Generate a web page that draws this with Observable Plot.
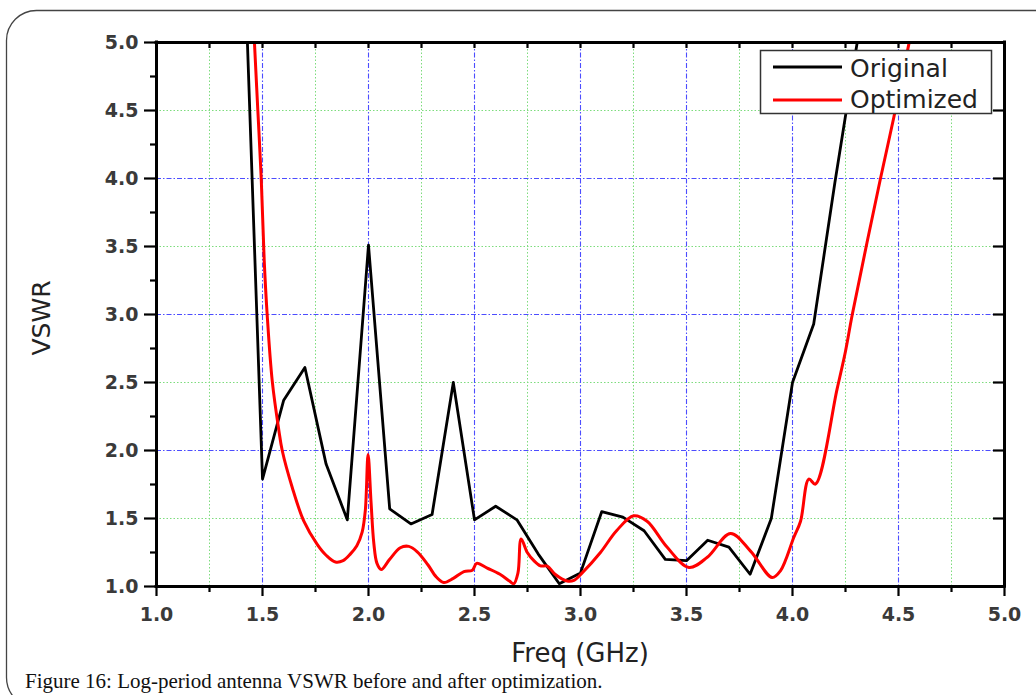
<!DOCTYPE html>
<html>
<head>
<meta charset="utf-8">
<script src="https://cdn.jsdelivr.net/npm/d3@7"></script>
<script src="https://cdn.jsdelivr.net/npm/@observablehq/plot@0.6"></script>
<style>
  html, body { margin: 0; padding: 0; background: #fff; }
  #wrap { position: relative; width: 1036px; height: 695px; overflow: hidden; background: #fff; }
  #wrap > svg.plot-main { position: absolute; left: 0; top: 0; }
  #overlay { position: absolute; left: 0; top: 0; pointer-events: none; }
</style>
</head>
<body>
<div id="wrap"></div>
<script>
// ---- data ----
const origFreq = [1.4, 1.5, 1.6, 1.7, 1.8, 1.9, 2.0, 2.1, 2.2, 2.3, 2.4, 2.5, 2.6, 2.7, 2.8, 2.9, 3.0, 3.1, 3.2, 3.3, 3.4, 3.5, 3.6, 3.7, 3.8, 3.9, 4.0, 4.1, 4.2, 4.3, 4.4];
const origVswr = [6.3, 1.79, 2.37, 2.61, 1.9, 1.49, 3.51, 1.57, 1.46, 1.53, 2.5, 1.49, 1.59, 1.49, 1.24, 1.02, 1.1, 1.55, 1.51, 1.41, 1.2, 1.19, 1.34, 1.29, 1.09, 1.5, 2.5, 2.93, 3.97, 4.95, 5.9];

const optFreq = [1.45, 1.462, 1.478, 1.494, 1.508, 1.522, 1.546, 1.577, 1.593, 1.64, 1.695, 1.758, 1.80, 1.844, 1.88, 1.915, 1.945, 1.97, 1.985, 1.998, 2.012, 2.025, 2.04, 2.06, 2.1, 2.15, 2.19, 2.23, 2.28, 2.32, 2.355, 2.4, 2.45, 2.49, 2.51, 2.56, 2.62, 2.665, 2.685, 2.705, 2.72, 2.749, 2.78, 2.811, 2.843, 2.88, 2.937, 2.969, 3.008, 3.094, 3.17, 3.251, 3.314, 3.408, 3.511, 3.598, 3.708, 3.802, 3.904, 3.943, 4.006, 4.038, 4.077, 4.108, 4.21, 4.25, 4.282, 4.415, 4.478, 4.549, 4.57];
const optVswr = [5.4, 5.0, 4.5, 4.0, 3.4, 3.0, 2.51, 2.15, 2.0, 1.73, 1.48, 1.31, 1.23, 1.18, 1.19, 1.24, 1.3, 1.4, 1.56, 1.97, 1.62, 1.32, 1.17, 1.125, 1.2, 1.285, 1.295, 1.255, 1.16, 1.07, 1.03, 1.06, 1.11, 1.12, 1.17, 1.135, 1.09, 1.04, 1.02, 1.1, 1.35, 1.25, 1.19, 1.152, 1.15, 1.09, 1.04, 1.045, 1.10, 1.25, 1.41, 1.52, 1.48, 1.29, 1.14, 1.215, 1.39, 1.26, 1.066, 1.115, 1.36, 1.48, 1.79, 1.753, 2.45, 2.73, 3.0, 4.0, 4.45, 4.99, 5.15];

const seriesNames = ["Original", "Optimized"];
const seriesColors = ["#000000", "#ff0000"];

const xMajor = [1.0, 1.5, 2.0, 2.5, 3.0, 3.5, 4.0, 4.5, 5.0];
const xMinor = [1.25, 1.75, 2.25, 2.75, 3.25, 3.75, 4.25, 4.75];
const xTopTicks = [1.25, 1.5, 1.75, 2.0, 2.25, 2.5, 2.75, 3.0, 3.25, 3.5, 3.75, 4.0, 4.25, 4.5, 4.75];
const yMajor = [1.0, 1.5, 2.0, 2.5, 3.0, 3.5, 4.0, 4.5, 5.0];
const yMinor = [1.25, 1.75, 2.25, 2.75, 3.25, 3.75, 4.25, 4.75];
const yRightTicks = [1.5, 2.0, 2.5, 3.0, 3.5, 4.0, 4.5];
const xGridBlue = [1.5, 2.0, 2.5, 3.0, 3.5, 4.0, 4.5];
const xGridGreen = xMinor;
const yGridBlue = [2.0, 3.0, 4.0];
const yGridGreen = [1.5, 2.5, 3.5, 4.5];

const xTitle = "Freq (GHz)";
const yTitle = "VSWR";
const caption = "Figure 16: Log-period antenna VSWR before and after optimization.";

// ---- tables ----
const original = origFreq.map((f, i) => ({f, v: origVswr[i]}));
const optimized = optFreq.map((f, i) => ({f, v: optVswr[i]}));

const fmt = d3.format(".1f");
const FONT = "DejaVu Sans, Verdana, sans-serif";
const blue = "#4d4dff", green = "#7ddc7d";

const chart = Plot.plot({
  width: 1036,
  height: 660,
  marginLeft: 156,
  marginRight: 32,
  marginTop: 42,
  marginBottom: 74,
  x: {domain: [1, 5]},
  y: {domain: [1, 5]},
  style: {fontFamily: FONT, background: "transparent", color: "black", overflow: "visible"},
  marks: [
    Plot.ruleX(xGridGreen, {stroke: green, strokeWidth: 1, strokeDasharray: "1.5,2"}),
    Plot.ruleY(yGridGreen, {stroke: green, strokeWidth: 1, strokeDasharray: "1.5,2"}),
    Plot.ruleX(xGridBlue, {stroke: blue, strokeWidth: 1.1, strokeDasharray: "5,2,1.5,2"}),
    Plot.ruleY(yGridBlue, {stroke: blue, strokeWidth: 1.1, strokeDasharray: "5,2,1.5,2"}),
    Plot.line(original, {x: "f", y: "v", stroke: seriesColors[0], strokeWidth: 2.8, clip: true}),
    Plot.line(optimized, {x: "f", y: "v", stroke: seriesColors[1], strokeWidth: 3, curve: "catmull-rom", clip: true}),
    Plot.ruleX([1, 5], {stroke: "black", strokeWidth: 3, strokeLinecap: "square"}),
    Plot.ruleY([1, 5], {stroke: "black", strokeWidth: 3, strokeLinecap: "square"}),
    Plot.tickX(xTopTicks, {x: d => d, insetBottom: 538, stroke: "black", strokeWidth: 2.2}),
    Plot.tickY(yRightTicks, {y: d => d, insetLeft: 837, stroke: "black", strokeWidth: 2.2}),
    Plot.axisX(xMajor, {anchor: "bottom", tickSize: 10, tickPadding: 11, tickFormat: fmt,
      fontSize: 19, fontWeight: "bold", fontFamily: FONT, fill: "#3a3a3a", stroke: "black", strokeWidth: 2.2, label: null}),
    Plot.axisX(xMinor, {anchor: "bottom", tickSize: 6, fill: "none", stroke: "black", strokeWidth: 2.2, label: null}),
    Plot.axisY(yMajor, {anchor: "left", tickSize: 12, tickPadding: 6, tickFormat: fmt,
      fontSize: 19, fontWeight: "bold", fontFamily: FONT, fill: "#3a3a3a", stroke: "black", strokeWidth: 2.2, label: null}),
    Plot.axisY(yMinor, {anchor: "left", tickSize: 6, fill: "none", stroke: "black", strokeWidth: 2.2, label: null})
  ]
});
chart.classList.add("plot-main");
const wrap = document.getElementById("wrap");
wrap.appendChild(chart);

// ---- overlay: titles, legend, caption, figure border ----
const NS = "http://www.w3.org/2000/svg";
const ov = document.createElementNS(NS, "svg");
ov.setAttribute("id", "overlay");
ov.setAttribute("width", 1036);
ov.setAttribute("height", 695);
function el(tag, attrs, text) {
  const e = document.createElementNS(NS, tag);
  for (const k in attrs) e.setAttribute(k, attrs[k]);
  if (text != null) e.textContent = text;
  ov.appendChild(e);
  return e;
}
// figure border
el("rect", {x: 6.5, y: 10.5, width: 1120, height: 697, rx: 30, ry: 30, fill: "none", stroke: "#444", "stroke-width": 1.3});
// axis titles
el("text", {x: 580, y: 662, "text-anchor": "middle", "font-family": FONT, "font-size": 26, fill: "#222"}, xTitle);
el("text", {transform: "translate(50,318) rotate(-90)", "text-anchor": "middle", "font-family": FONT, "font-size": 25, fill: "#222"}, yTitle);
// legend
el("rect", {x: 760.5, y: 50.5, width: 231, height: 63, fill: "#fff", stroke: "#333", "stroke-width": 1.5});
const legY = [67, 100];
const legBase = [76.5, 107.5];
seriesNames.forEach((name, i) => {
  el("line", {x1: 773, x2: 842, y1: legY[i], y2: legY[i], stroke: seriesColors[i], "stroke-width": 3});
  el("text", {x: 850, y: legBase[i], "font-family": FONT, "font-size": 25, fill: "#222"}, name);
});
// caption
el("text", {x: 25, y: 688, "font-family": "Liberation Serif, Times New Roman, serif", "font-size": 21, fill: "#111"}, caption);
wrap.appendChild(ov);
</script>
</body>
</html>
